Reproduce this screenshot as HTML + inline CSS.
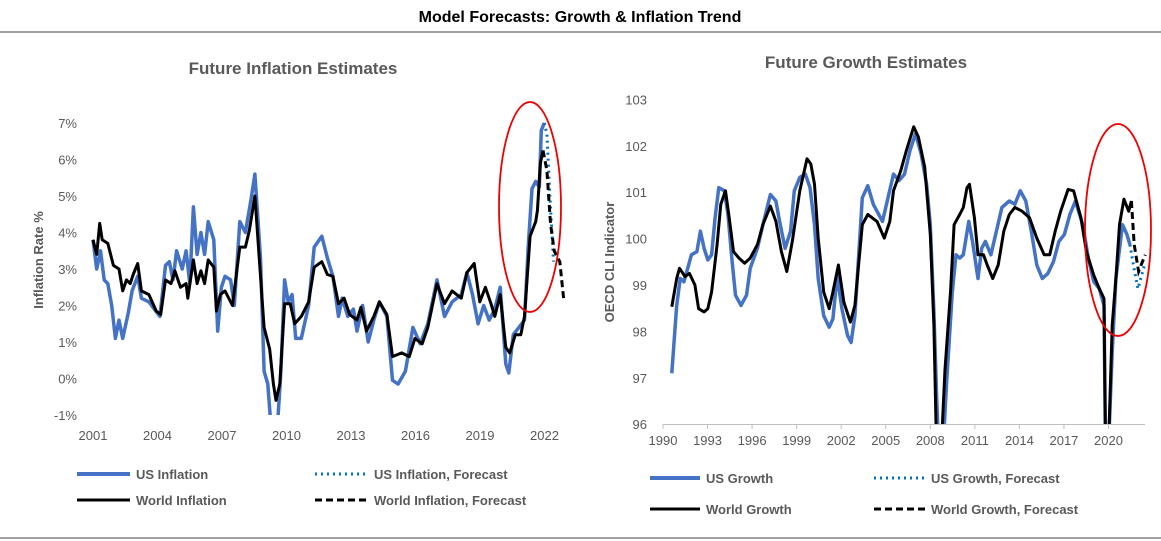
<!DOCTYPE html>
<html><head><meta charset="utf-8"><style>
body{margin:0;background:#fff;width:1161px;height:541px;overflow:hidden;font-family:"Liberation Sans",sans-serif}
svg{display:block}
text{font-family:"Liberation Sans",sans-serif}
</style></head><body>
<svg id="c" width="1161" height="541">
<text x="580" y="22" text-anchor="middle" font-size="16" font-weight="bold" fill="#000">Model Forecasts: Growth &amp; Inflation Trend</text>
<line x1="0" y1="32" x2="1161" y2="32" stroke="#444" stroke-width="1"/>
<line x1="0" y1="538" x2="1161" y2="538" stroke="#444" stroke-width="1"/>
<defs>
<clipPath id="clipL"><rect x="60" y="95" width="520" height="320"/></clipPath>
<clipPath id="clipR"><rect x="650" y="90" width="510" height="334"/></clipPath>
</defs>
<g id="left"></g>
<g id="right"></g>
</svg>
<script>
// ---- Inflation data ----
const infUSYears=[0,.17,.35,.52,.69,.87,1.04,1.21,1.38,1.64,1.82,2.08,2.25,2.60,3.11,3.37,3.55,3.72,3.89,4.15,4.33,4.50,4.67,4.84,5.02,5.19,5.36,5.62,5.80,5.97,6.14,6.40,6.57,6.83,7.09,7.35,7.53,7.79,7.96,8.13,8.30,8.56,8.74,8.91,9.08,9.26,9.43,9.69,10.03,10.29,10.64,10.90,11.16,11.42,11.59,11.85,12.11,12.28,12.54,12.80,13.06,13.32,13.67,13.93,14.19,14.53,14.88,15.22,15.57,16.00,16.35,16.70,17.13,17.39,17.65,17.91,18.17,18.43,18.69,18.94,19.20,19.34,19.55,19.81,20.07,20.24,20.42,20.59,20.76,20.85,20.99];
const infUSValues=[3.8,3.0,3.5,2.7,2.6,2.0,1.1,1.6,1.1,1.8,2.4,2.8,2.2,2.1,1.7,3.1,3.2,2.7,3.5,3.0,3.5,2.6,4.7,3.4,4.0,3.4,4.3,3.8,1.3,2.5,2.8,2.7,2.0,4.3,4.0,4.9,5.6,3.3,0.2,-0.15,-1.5,-1.5,0.2,2.7,2.1,2.3,1.1,1.1,2.0,3.6,3.9,3.3,2.8,1.7,2.2,1.7,1.9,1.3,2.0,1.0,1.6,2.1,1.7,-0.05,-0.15,0.2,1.4,0.95,1.5,2.7,1.7,2.1,2.3,2.9,2.3,1.5,2.0,1.6,1.9,2.5,0.4,0.15,1.2,1.4,1.6,3.6,5.2,5.4,5.25,6.8,7.0];
const infUSFcYears=[20.99,21.11,21.25,21.42];
const infUSFcValues=[7.0,6.7,5.0,3.2];
const infWYears=[0,.17,.31,.43,.69,.95,1.21,1.38,1.56,1.73,1.87,2.08,2.25,2.60,2.94,3.15,3.37,3.63,3.81,4.07,4.33,4.41,4.67,4.84,5.02,5.19,5.36,5.62,5.74,5.92,6.14,6.49,6.83,7.09,7.27,7.53,7.79,7.96,8.22,8.39,8.51,8.69,8.91,9.17,9.38,9.69,10.03,10.29,10.64,10.90,11.16,11.42,11.68,11.94,12.28,12.46,12.72,13.06,13.32,13.67,13.93,14.36,14.71,14.97,15.31,15.57,16.00,16.35,16.70,17.13,17.39,17.73,17.99,18.25,18.51,18.69,18.94,19.20,19.38,19.64,19.90,20.07,20.33,20.59,20.67,20.81,20.93];
const infWValues=[3.8,3.4,4.25,3.8,3.7,3.1,3.0,2.4,2.7,2.6,2.85,3.15,2.4,2.3,1.85,1.75,2.7,2.6,2.95,2.5,2.6,2.2,3.25,2.6,2.95,2.6,3.25,3.05,1.85,2.3,2.4,2.0,3.6,3.6,4.05,5.0,2.8,1.4,0.8,-0.15,-0.6,-0.15,2.05,2.05,1.5,1.7,2.1,3.05,3.2,2.85,2.8,2.05,2.2,1.75,1.6,1.95,1.3,1.7,2.1,1.75,0.6,0.7,0.6,1.1,0.95,1.4,2.6,2.05,2.4,2.2,2.9,3.15,2.1,2.5,2.05,1.7,2.3,0.85,0.7,1.2,1.2,1.7,3.9,4.3,4.6,5.9,6.25];
const infWFcYears=[20.93,21.11,21.28,21.45,21.71,21.89];
const infWFcValues=[6.25,5.7,4.25,3.5,3.2,2.2];
const infTicks=[-1,0,1,2,3,4,5,6,7];
const infXTicks=[2001,2004,2007,2010,2013,2016,2019,2022];
// ---- Growth data ----
const grUSYears=[.59,.92,1.16,1.41,1.66,1.91,2.28,2.52,2.77,3.02,3.27,3.51,3.76,4.13,4.38,4.63,4.88,5.25,5.62,5.87,6.36,6.73,7.23,7.60,7.85,8.22,8.59,8.84,9.21,9.58,9.90,10.20,10.45,10.82,11.19,11.44,11.73,12.05,12.43,12.67,12.92,13.42,13.79,14.16,14.41,14.78,15.15,15.52,15.89,16.26,16.63,17.00,17.38,17.75,18.00,18.24,18.42,18.56,18.86,19.11,19.48,19.73,19.98,20.22,20.59,20.84,21.21,21.46,21.71,22.08,22.45,22.82,23.32,23.69,24.06,24.43,24.80,25.17,25.54,25.92,26.29,26.66,27.03,27.40,27.77,28.27,28.64,29.01,29.38,29.70,29.80,30.00,30.25,30.50,30.94,31.24,31.44];
const grUSValues=[97.1,98.56,99.14,99.07,99.36,99.65,99.72,100.16,99.79,99.54,99.65,100.45,101.1,101.03,100.52,99.58,98.78,98.56,98.78,99.36,99.79,100.3,100.95,100.81,100.37,99.79,100.16,101.03,101.32,101.39,101.1,100.3,99.14,98.34,98.09,98.27,99.21,98.49,97.91,97.76,98.34,100.88,101.14,100.74,100.59,100.37,100.88,101.39,101.25,101.39,101.9,102.26,101.83,101.17,100.3,98.42,96.68,95.5,95.5,96.97,98.85,99.65,99.58,99.65,100.37,99.94,99.14,99.79,99.94,99.65,100.16,100.67,100.81,100.74,101.03,100.81,100.16,99.43,99.14,99.25,99.5,99.94,100.09,100.52,100.81,100.3,99.58,99.07,98.92,98.56,95.5,95.5,97.55,99.14,100.3,100.09,99.87];
const grUSFcYears=[31.44,31.68,31.98,32.23,32.43];
const grUSFcValues=[99.87,99.43,98.92,99.21,99.43];
const grWYears=[.59,.92,1.11,1.49,1.78,2.15,2.40,2.77,3.02,3.27,3.64,3.89,4.21,4.46,4.75,5.12,5.50,5.87,6.36,6.73,7.23,7.60,7.97,8.34,8.71,9.21,9.70,9.95,10.20,10.45,10.82,11.19,11.44,11.81,12.18,12.62,12.92,13.42,13.79,14.41,14.90,15.27,15.52,16.01,16.39,16.88,17.20,17.62,18.00,18.24,18.42,18.74,18.99,19.36,19.60,19.98,20.22,20.47,20.64,20.97,21.21,21.58,21.83,22.20,22.57,22.95,23.32,23.69,24.18,24.68,25.17,25.67,26.04,26.41,26.78,27.28,27.65,28.14,28.51,29.01,29.38,29.70,29.80,30.00,30.25,30.50,30.74,31.04,31.36,31.54];
const grWValues=[98.53,99.14,99.36,99.18,99.25,99.0,98.49,98.42,98.49,98.85,99.87,100.74,101.03,100.45,99.72,99.58,99.47,99.58,99.87,100.3,100.7,100.37,99.72,99.29,99.94,101.03,101.72,101.61,101.17,100.01,98.85,98.49,98.85,99.43,98.63,98.2,98.56,100.3,100.52,100.37,100.01,100.37,101.03,101.46,101.9,102.41,102.19,101.54,100.09,98.13,95.5,95.5,97.18,98.85,100.3,100.52,100.67,101.1,101.17,100.45,99.65,99.65,99.43,99.14,99.43,100.16,100.52,100.67,100.59,100.45,100.01,99.65,99.65,100.16,100.59,101.06,101.03,100.45,99.72,99.21,98.92,98.71,95.5,95.5,98.13,99.14,100.3,100.85,100.59,100.81];
const grWFcYears=[31.54,31.73,32.03,32.28,32.48];
const grWFcValues=[100.81,99.87,99.29,99.5,99.65];
const grTicks=[96,97,98,99,100,101,102,103];
const grXTicks=[1990,1993,1996,1999,2002,2005,2008,2011,2014,2017,2020];

const NS='http://www.w3.org/2000/svg';
function mk(parent,tag,attrs,txt){const e=document.createElementNS(NS,tag);for(const k in attrs)e.setAttribute(k,attrs[k]);if(txt!==undefined)e.textContent=txt;parent.appendChild(e);return e;}
const GRAY='#595959';
// Left axes
const lx=y=>93+y*21.5;           // years since 2001
const ly=v=>378.5-v*36.5;
// Right axes
const rx=y=>663+y*14.85;          // years since 1990
const ry=v=>99.4+(103-v)*46.4;

function pathD(xs,ys,fx,fy){return xs.map((x,i)=>(i?'L':'M')+fx(x).toFixed(1)+' '+fy(ys[i]).toFixed(1)).join(' ');}

const L=document.getElementById('left');
let t=mk(L,'text',{x:293,y:74,'text-anchor':'middle','font-size':17,'font-weight':'bold',fill:GRAY},'Future Inflation Estimates');


t=mk(L,'text',{x:0,y:0,transform:'translate(43,260) rotate(-90)','text-anchor':'middle','font-size':13,'font-weight':'bold',fill:GRAY},'Inflation Rate %');


infTicks.forEach(v=>{const e=mk(L,'text',{x:77,y:ly(v)+5,'text-anchor':'end','font-size':13,fill:GRAY},v+'%');

});
infXTicks.forEach(yr=>{const e=mk(L,'text',{x:lx(yr-2001),y:440,'text-anchor':'middle','font-size':13,fill:GRAY},yr);

});
const gL=mk(L,'g',{'clip-path':'url(#clipL)'});
let p=mk(gL,'path',{d:pathD(infUSYears,infUSValues,lx,ly),fill:'none',stroke:'#4472C4','stroke-width':3.5,'stroke-linejoin':'round'});


p=mk(gL,'path',{d:pathD(infUSFcYears,infUSFcValues,lx,ly),fill:'none',stroke:'#0070C0','stroke-width':3,'stroke-dasharray':'2 4'});


p=mk(gL,'path',{d:pathD(infWYears,infWValues,lx,ly),fill:'none',stroke:'#000','stroke-width':3,'stroke-linejoin':'round'});


p=mk(gL,'path',{d:pathD(infWFcYears,infWFcValues,lx,ly),fill:'none',stroke:'#000','stroke-width':3,'stroke-dasharray':'7 4'});


p=mk(L,'ellipse',{cx:530,cy:207,rx:31,ry:105,fill:'none',stroke:'#E00','stroke-width':1.8});



const R=document.getElementById('right');
t=mk(R,'text',{x:866,y:68,'text-anchor':'middle','font-size':17,'font-weight':'bold',fill:GRAY},'Future Growth Estimates');


t=mk(R,'text',{x:0,y:0,transform:'translate(614,262) rotate(-90)','text-anchor':'middle','font-size':13,'font-weight':'bold',fill:GRAY},'OECD CLI Indicator');


grTicks.forEach(v=>{const e=mk(R,'text',{x:647,y:ry(v)+5,'text-anchor':'end','font-size':13,fill:GRAY},v);

});
grXTicks.forEach(yr=>{const e=mk(R,'text',{x:rx(yr-1990),y:445,'text-anchor':'middle','font-size':13,fill:GRAY},yr);

});
p=mk(R,'line',{x1:663,y1:424.5,x2:1145,y2:424.5,stroke:'#BFBFBF','stroke-width':1});


grXTicks.forEach(yr=>{const e=mk(R,'line',{x1:rx(yr-1990),y1:424,x2:rx(yr-1990),y2:429,stroke:'#BFBFBF'});

});
const gR=mk(R,'g',{'clip-path':'url(#clipR)'});
p=mk(gR,'path',{d:pathD(grUSYears,grUSValues,rx,ry),fill:'none',stroke:'#4472C4','stroke-width':3.5,'stroke-linejoin':'round'});


p=mk(gR,'path',{d:pathD(grUSFcYears,grUSFcValues,rx,ry),fill:'none',stroke:'#0070C0','stroke-width':3,'stroke-dasharray':'2 4'});


p=mk(gR,'path',{d:pathD(grWYears,grWValues,rx,ry),fill:'none',stroke:'#000','stroke-width':3,'stroke-linejoin':'round'});


p=mk(gR,'path',{d:pathD(grWFcYears,grWFcValues,rx,ry),fill:'none',stroke:'#000','stroke-width':3,'stroke-dasharray':'7 4'});


p=mk(R,'ellipse',{cx:1118,cy:230,rx:33,ry:106,fill:'none',stroke:'#E00','stroke-width':1.8});



// Legends
function legend(parent,x1,x2,y,style,label,name){
  const g=mk(parent,'g',{});
  
  
  mk(g,'line',Object.assign({x1:x1,y1:y,x2:x2,y2:y,fill:'none'},style));
  mk(g,'text',{x:x2+6,y:y+5,'font-size':13,'font-weight':'bold',fill:GRAY},label);
}
const sBlue={stroke:'#4472C4','stroke-width':4};
const sBlueDot={stroke:'#0070C0','stroke-width':3,'stroke-dasharray':'2 4'};
const sBlack={stroke:'#000','stroke-width':3};
const sBlackDash={stroke:'#000','stroke-width':3,'stroke-dasharray':'7 4'};
legend(L,77,130,474,sBlue,'US Inflation','legend-us-inflation');
legend(L,315,368,474,sBlueDot,'US Inflation, Forecast','legend-us-inflation-forecast');
legend(L,77,130,500,sBlack,'World Inflation','legend-world-inflation');
legend(L,315,368,500,sBlackDash,'World Inflation, Forecast','legend-world-inflation-forecast');
legend(R,650,700,478,sBlue,'US Growth','legend-us-growth');
legend(R,874,925,478,sBlueDot,'US Growth, Forecast','legend-us-growth-forecast');
legend(R,650,700,509,sBlack,'World Growth','legend-world-growth');
legend(R,874,925,509,sBlackDash,'World Growth, Forecast','legend-world-growth-forecast');
</script>
</body></html>
